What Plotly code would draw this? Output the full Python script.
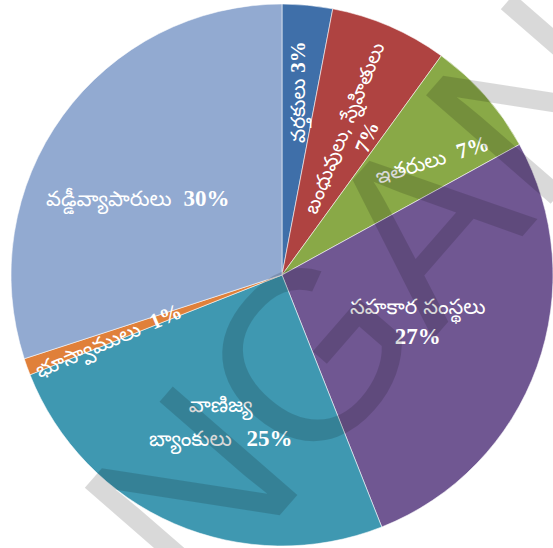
import plotly.graph_objects as go

# Sources of rural credit (share of borrowing, %)
sources = [
    "వర్తకులు",
    "బంధువులు, స్నేహితులు",
    "ఇతరులు",
    "సహకార సంస్థలు",
    "వాణిజ్య బ్యాంకులు",
    "భూస్వాములు",
    "వడ్డీవ్యాపారులు",
]
shares = [3, 7, 7, 27, 25, 1, 30]
colors = ["#3F6FA9", "#AF4341", "#89A947", "#705792", "#3F98B1", "#E0803A", "#92AAD1"]

W, H = 553, 548

fig = go.Figure(
    go.Pie(
        labels=sources,
        values=shares,
        sort=False,
        direction="clockwise",
        rotation=0,
        marker=dict(colors=colors, line=dict(color="rgba(255,255,255,0.55)", width=1)),
        textinfo="none",
        hoverinfo="label+percent",
        showlegend=False,
        domain=dict(x=[11 / W, 1.0], y=[1 / H, 545 / H]),
    )
)

TEL = "Noto Sans Telugu, Noto Serif Telugu, Lohit Telugu, Pothana2000, Gautami, sans-serif"
NUM = "'Liberation Serif', 'DejaVu Serif', serif"


def tel(s, size):
    return f"<span style=\"font-size:{size}px\">{s}</span>"


def pct(v, size):
    return f"<span style=\"font-family:{NUM};font-size:{size}px\"><b>{v}%</b></span>"


bank_words = sources[4].split(" ")

# label text built from the data; line breaks / spacing per slice
texts = [
    f"{tel(sources[0], 20)} {pct(shares[0], 21)}",
    f"{tel(sources[1], 20)}<br>{pct(shares[1], 21)}",
    f"{tel(sources[2], 21)}  {pct(shares[2], 22)}",
    f"{tel(sources[3], 21)}<br>{pct(shares[3], 23)}",
    f"{tel(bank_words[0], 21)}<br>{tel(bank_words[1], 21)}  {pct(shares[4], 23)}",
    f"{tel(sources[5], 21)}  {pct(shares[5], 22)}",
    f"{tel(sources[6], 21)}  {pct(shares[6], 23)}",
]

# label centres (pixels from top-left), rotation and base size (sets line gap)
label_pos = [(300, 92), (356, 133), (433, 162), (417, 322), (220, 426), (109, 343), (138, 201)]
label_rot = [-90, -68, -17, 0, 0, -23, 0]
label_base = [20, 19, 21, 23, 26, 21, 21]

annotations = []
for t, (px, py), rot, fs in zip(texts, label_pos, label_rot, label_base):
    annotations.append(
        dict(
            x=px / W,
            y=1 - py / H,
            xref="paper",
            yref="paper",
            text=t,
            textangle=rot,
            showarrow=False,
            xanchor="center",
            yanchor="middle",
            align="center",
            font=dict(family=TEL, size=fs, color="white"),
        )
    )

# faint diagonal watermark across the whole chart
annotations.append(
    dict(
        x=217 / W,
        y=1 - 461 / H,
        xref="paper",
        yref="paper",
        text="TELANGANA",
        textangle=-49,
        showarrow=False,
        xanchor="center",
        yanchor="middle",
        font=dict(family="Liberation Sans, Arial, sans-serif", size=240, color="rgba(0,0,0,0.15)"),
    )
)

fig.update_layout(
    width=W,
    height=H,
    margin=dict(l=0, r=0, t=0, b=0),
    paper_bgcolor="white",
    plot_bgcolor="white",
    annotations=annotations,
)

fig.write_html("out.html")
